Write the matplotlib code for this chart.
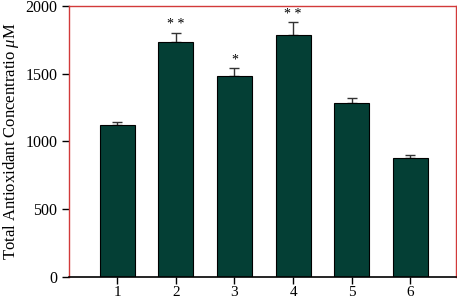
import numpy as np
import matplotlib
matplotlib.use('Agg')
from matplotlib import pyplot as plt

plt.rcParams['font.family'] = 'Liberation Serif'
plt.rcParams['mathtext.fontset'] = 'custom'
plt.rcParams['mathtext.it'] = 'Liberation Serif:italic'

#%% data
groups = ['1', '2', '3', '4', '5', '6']
means = [1122, 1732, 1481, 1784, 1282, 876]
errs = [24, 71, 64, 96, 37, 24]
stars = ['', '* *', '*', '* *', '', '']

bar_col = '#043f35'
red = '#d23a3a'

#%% plot
fig = plt.figure(figsize=(4.57, 3.02), dpi=100)
ax = fig.add_axes([0.151, 0.083, 0.846, 0.897])
x = np.arange(1, len(groups) + 1)
ax.bar(x, means, width=0.6, color=bar_col, edgecolor='black', linewidth=0.8, zorder=2)
ax.errorbar(x, means, yerr=[np.zeros(len(errs)), errs], fmt='none', ecolor='#333333',
            elinewidth=1.0, capsize=3.3, capthick=1.0, zorder=1)
for xi, m, e, s in zip(x, means, errs, stars):
    if s:
        ax.text(xi, m + e + 10, s, ha='center', va='bottom', fontsize=10)

ax.set_xlim(0.18, 6.77)
ax.set_ylim(0, 2000)
ax.set_xticks(x)
ax.set_xticklabels(groups)
ax.set_yticks([0, 500, 1000, 1500, 2000])
ax.tick_params(axis='both', direction='out', length=5, width=1, colors='black', labelsize=11.5)
ax.tick_params(axis='x', labelsize=11, pad=1.5)
ax.set_ylabel(r'Total Antioxidant Concentratio $\mathit{\mu}$M', fontsize=12, labelpad=3)

for side in ['left', 'top', 'right']:
    ax.spines[side].set_color(red)
    ax.spines[side].set_linewidth(1.0)
ax.spines['bottom'].set_color('black')
ax.spines['bottom'].set_linewidth(1.2)

plt.savefig('out.png', dpi=100)
